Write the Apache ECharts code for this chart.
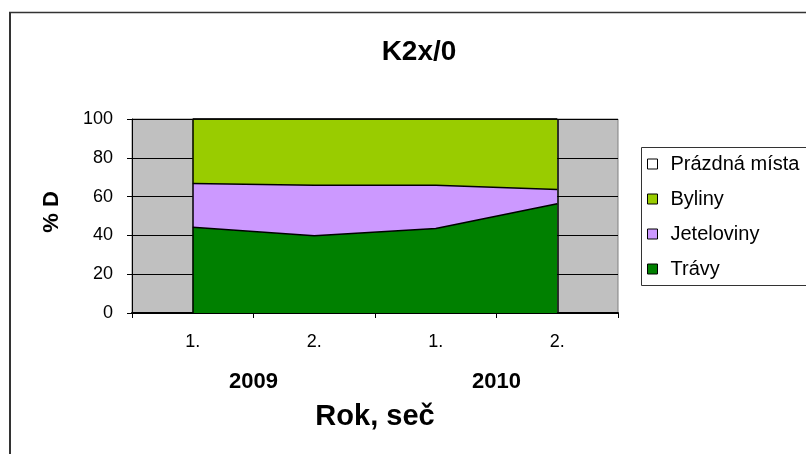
<!DOCTYPE html>
<html>
<head>
<meta charset="utf-8">
<script src="https://cdn.jsdelivr.net/npm/echarts@6/dist/echarts.min.js"></script>
<style>
  html, body { margin: 0; padding: 0; background: #fff; }
  #chart { width: 806px; height: 454px; }
</style>
</head>
<body>
<div id="chart"></div>
<script>
// Podíl skupin v porostu (% D) podle roku a seče
const cuts = ['1.', '2.', '1.', '2.'];
const years = ['2009', '2010'];
const travy = [44.2, 39.8, 43.6, 56.3];
const jeteloviny = [22.5, 26.0, 22.2, 7.4];
const byliny = [33.3, 34.2, 34.2, 36.3];
const prazdnaMista = [0, 0, 0, 0];
const yTicks = { min: 0, max: 100, interval: 20 };

const FONT = '"Liberation Sans", Arial, sans-serif';

const chart = echarts.init(document.getElementById('chart'), null, { renderer: 'canvas' });

function areaSeries(name, data, color, extra) {
  return Object.assign({
    name: name,
    type: 'line',
    stack: 'total',
    data: data,
    symbol: 'none',
    smooth: false,
    lineStyle: { color: '#000', width: 1.5 },
    areaStyle: { color: color, opacity: 1 },
    itemStyle: { color: color, borderColor: '#000', borderWidth: 1 },
    emphasis: { disabled: true }
  }, extra || {});
}

chart.setOption({
  animation: false,
  backgroundColor: '#fff',
  textStyle: { fontFamily: FONT },
  title: {
    text: 'K2x/0',
    left: 414,
    top: 33,
    textAlign: 'center',
    textStyle: { fontFamily: FONT, fontSize: 28, fontWeight: 'bold', color: '#000' }
  },
  grid: {
    left: 132, right: 188, top: 119, bottom: 141,
    show: true,
    backgroundColor: '#C0C0C0',
    borderColor: '#808080',
    borderWidth: 1
  },
  legend: {
    orient: 'vertical',
    left: 641,
    top: 147,
    padding: [7, 6, 8, 6],
    itemGap: 15,
    itemWidth: 10,
    itemHeight: 10,
    icon: 'rect',
    data: ['Prázdná místa', 'Byliny', 'Jeteloviny', 'Trávy'],
    textStyle: { fontFamily: FONT, fontSize: 20, color: '#000', padding: [0, 0, 0, 8] },
    itemStyle: { borderColor: '#000', borderWidth: 1 }
  },
  xAxis: [
    {
      type: 'category',
      data: cuts,
      boundaryGap: true,
      position: 'bottom',
      axisLine: { show: true, lineStyle: { color: '#000', width: 2 } },
      axisTick: { show: true, alignWithLabel: false, length: 5, lineStyle: { color: '#000' } },
      axisLabel: { fontFamily: FONT, fontSize: 18, color: '#000', margin: 20 },
      splitLine: { show: false }
    },
    {
      type: 'category',
      data: years,
      boundaryGap: true,
      position: 'bottom',
      axisLine: { show: false },
      axisTick: { show: false },
      axisLabel: { fontFamily: FONT, fontSize: 22, fontWeight: 'bold', color: '#000', margin: 58 },
      splitLine: { show: false },
      name: 'Rok, seč',
      nameLocation: 'middle',
      nameGap: 89,
      nameTextStyle: { fontFamily: FONT, fontSize: 29, fontWeight: 'bold', color: '#000' }
    }
  ],
  yAxis: {
    type: 'value',
    min: yTicks.min,
    max: yTicks.max,
    interval: yTicks.interval,
    axisLine: { show: true, lineStyle: { color: '#000', width: 1 } },
    axisTick: { show: true, length: 5, lineStyle: { color: '#000' } },
    axisLabel: { fontFamily: FONT, fontSize: 18, color: '#000', margin: 19 },
    splitLine: { show: true, lineStyle: { color: '#000', width: 1 } }
  },
  graphic: [
    {
      type: 'text',
      x: 52, y: 212,
      rotation: Math.PI / 2,
      style: {
        text: '% D',
        x: 0, y: 0,
        align: 'center',
        verticalAlign: 'middle',
        font: 'bold 22px ' + FONT,
        fill: '#000'
      }
    },
    {
      // legend frame, running past the right edge of the canvas
      type: 'rect',
      shape: { x: 641.5, y: 147.5, width: 200, height: 138 },
      style: { fill: null, stroke: '#333', lineWidth: 1 },
      z: 1
    },
    {
      type: 'line',
      shape: { x1: 10, y1: 12, x2: 10, y2: 460 },
      style: { stroke: '#333', lineWidth: 2 }
    },
    {
      type: 'line',
      shape: { x1: 9, y1: 12.5, x2: 820, y2: 12.5 },
      style: { stroke: '#333', lineWidth: 1.5 }
    }
  ],
  series: [
    areaSeries('Trávy', travy, '#008000', {
      markLine: {
        silent: true,
        symbol: 'none',
        label: { show: false },
        lineStyle: { color: '#000', width: 1.5, type: 'solid' },
        data: [{ xAxis: 0 }, { xAxis: 3 }]
      }
    }),
    areaSeries('Jeteloviny', jeteloviny, '#CC99FF'),
    areaSeries('Byliny', byliny, '#99CC00'),
    areaSeries('Prázdná místa', prazdnaMista, '#FFFFFF')
  ]
});
</script>
</body>
</html>
